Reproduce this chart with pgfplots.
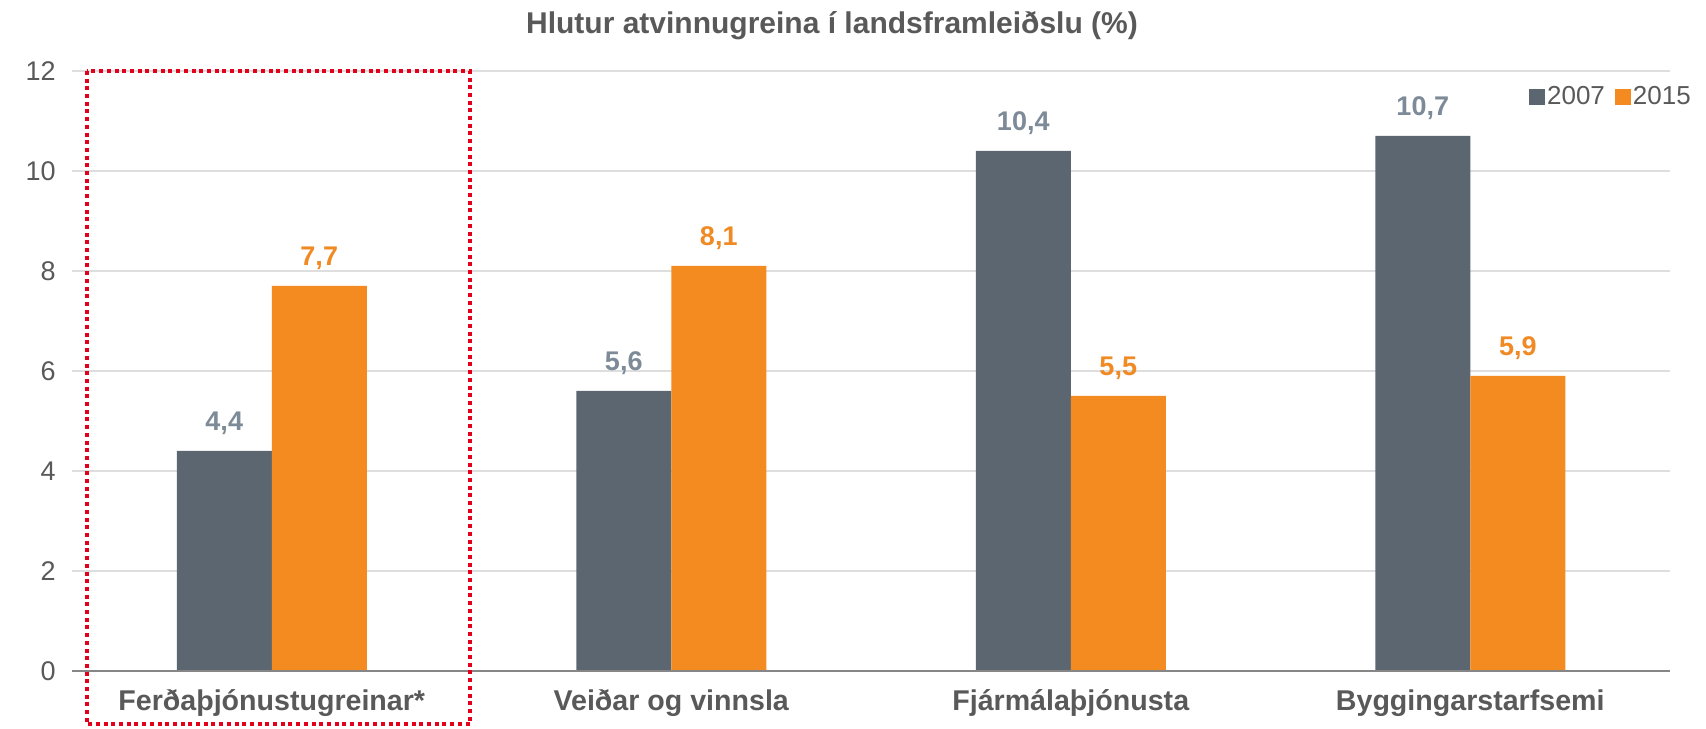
\documentclass[border=0pt]{standalone}
\usepackage{fontspec}
\setmainfont{Liberation Sans}
\usepackage{pgfplots}
\pgfplotsset{compat=1.18}
\definecolor{darkbar}{HTML}{5B6670}
\definecolor{orangebar}{HTML}{F38B20}
\definecolor{txtgray}{HTML}{595959}
\definecolor{lbl07}{HTML}{7D8A97}
\definecolor{lbl15}{HTML}{F08A24}
\definecolor{gridgray}{HTML}{DEDEDE}
\definecolor{axisgray}{HTML}{868686}
\definecolor{boxred}{HTML}{E3001B}
\begin{document}
\begin{tikzpicture}
\useasboundingbox (-36pt,-28.5pt) rectangle (817pt,335.5pt);
\begin{axis}[
  at={(0,0)}, anchor=south west,
  scale only axis, width=799pt, height=300pt,
  xmin=-0.5, xmax=3.5, ymin=0, ymax=12,
  ytick={0,2,...,12},
  xtick={0,1,2,3},
  xticklabels={Ferðaþjónustugreinar*, Veiðar og vinnsla, Fjármálaþjónusta, Byggingarstarfsemi},
  axis lines=left,
  axis line style={draw=none,-},
  tick style={draw=none},
  major tick length=0pt,
  ymajorgrids,
  grid style={gridgray, line width=0.75pt},
  /pgf/number format/assume math mode=true,
  yticklabel style={anchor=east, inner sep=0pt, xshift=-8pt, font=\fontsize{13.5}{15}\selectfont, text=txtgray},
  xticklabel style={anchor=base, inner sep=0pt, yshift=-19.5pt, font=\bfseries\fontsize{14.3}{17}\selectfont, text=txtgray},
  clip=false,
  legend columns=2,
  legend style={at={(1.0145,0.9567)}, anchor=east, draw=none, fill=none, inner sep=0pt,
    font=\fontsize{13}{15}\selectfont, text=txtgray,
    nodes={inner sep=1pt},
    /tikz/column 2/.style={column sep=4pt}},
]
\addplot[ybar, bar width=47.5pt, bar shift=-23.75pt, fill=darkbar, draw=none,
  nodes near coords={\pgfmathprintnumber[fixed,fixed zerofill,precision=1,use comma]{\pgfplotspointmeta}},
  every node near coord/.append style={font=\bfseries\fontsize{13.5}{16}\selectfont, text=lbl07, anchor=base, yshift=10pt, xshift=-23.75pt},
  legend image code/.code={\fill[darkbar] (0pt,-4pt) rectangle (8pt,4pt);}]
  coordinates {(0,4.4) (1,5.6) (2,10.4) (3,10.7)};
\addlegendentry{2007}
\addplot[ybar, bar width=47.5pt, bar shift=23.75pt, fill=orangebar, draw=none,
  nodes near coords={\pgfmathprintnumber[fixed,fixed zerofill,precision=1,use comma]{\pgfplotspointmeta}},
  every node near coord/.append style={font=\bfseries\fontsize{13.5}{16}\selectfont, text=lbl15, anchor=base, yshift=10pt, xshift=23.75pt},
  legend image code/.code={\fill[orangebar] (0pt,-4pt) rectangle (8pt,4pt);}]
  coordinates {(0,7.7) (1,8.1) (2,5.5) (3,5.9)};
\addlegendentry{2015}
\draw[axisgray, line width=1pt] (rel axis cs:0,0) -- (rel axis cs:1,0);
\draw[boxred, line width=2pt, dash pattern=on 2pt off 1.85pt] (axis cs:-0.463,12) rectangle (axis cs:0.496,-1.06);
\end{axis}
\node[font=\bfseries\fontsize{15}{18}\selectfont, text=txtgray] at (380pt,322.5pt) {Hlutur atvinnugreina í landsframleiðslu (\%)};
\end{tikzpicture}
\end{document}
